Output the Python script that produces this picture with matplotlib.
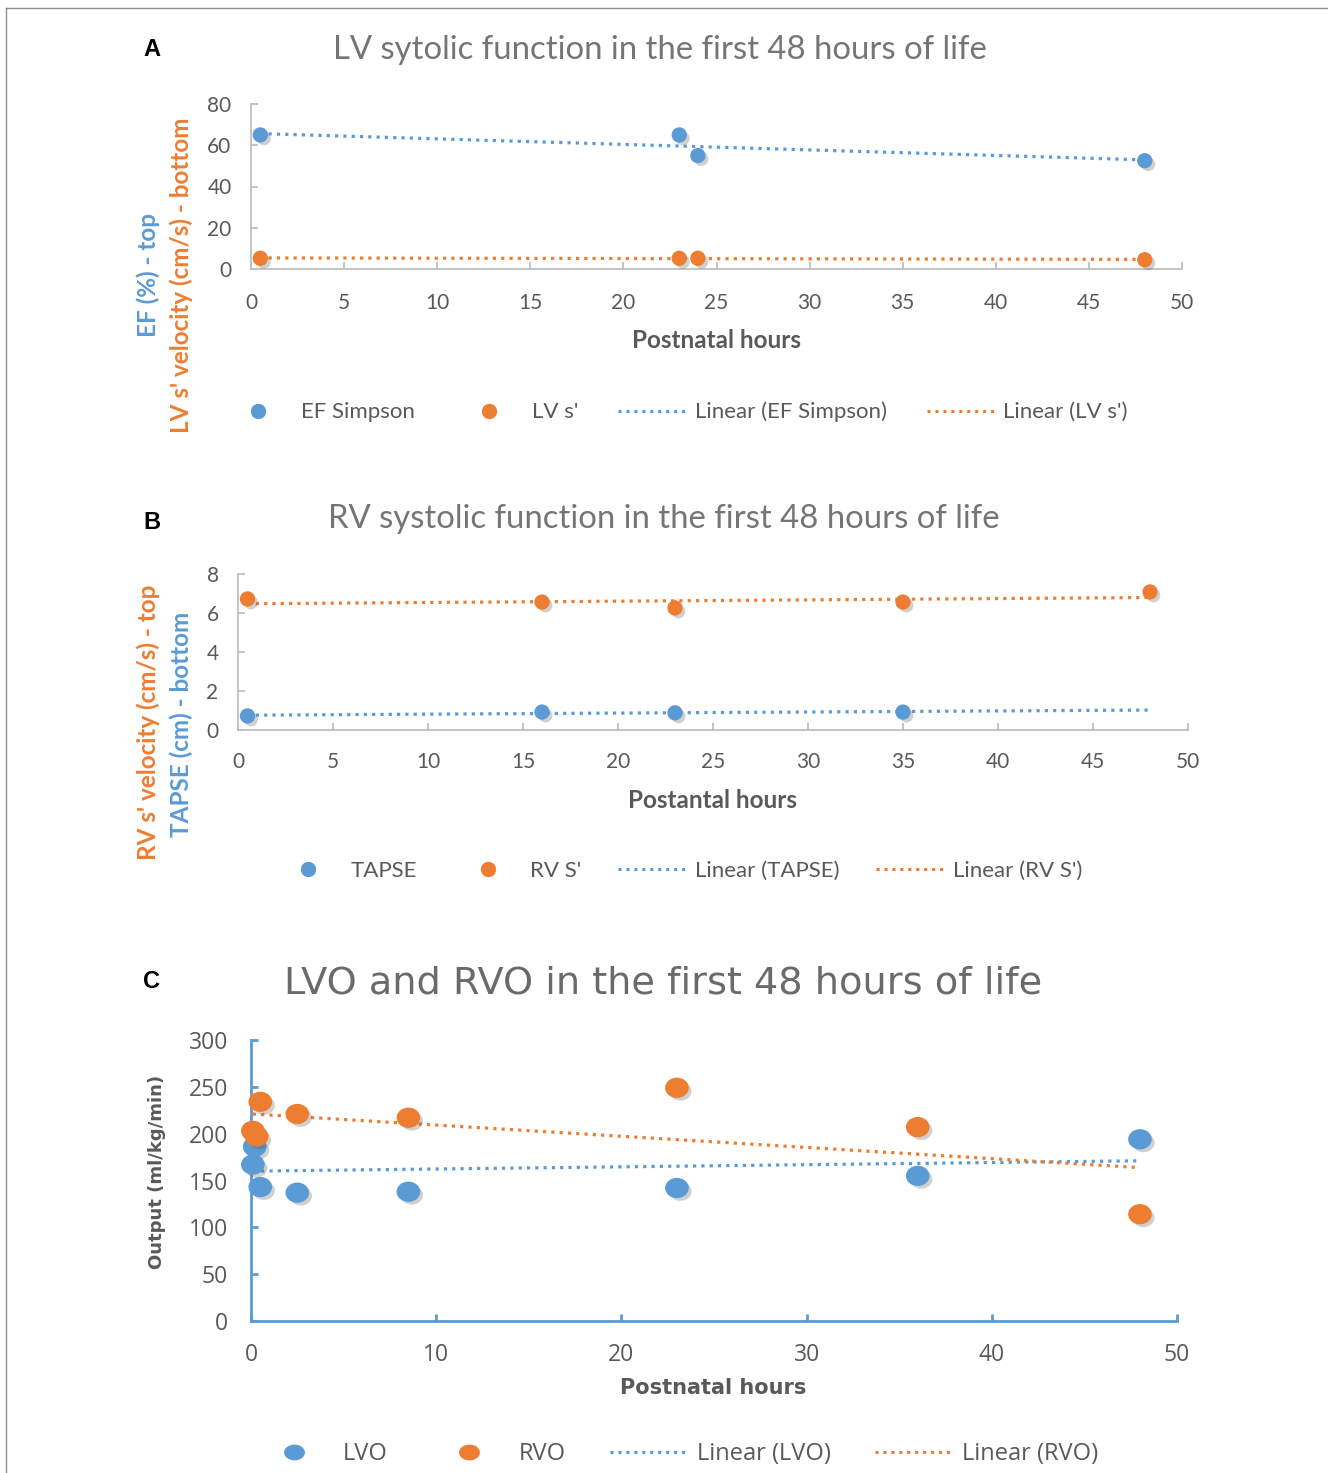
import numpy as np
import matplotlib
matplotlib.use('Agg')
import matplotlib.pyplot as plt
import matplotlib.patheffects as pe
from matplotlib.path import Path
from matplotlib.lines import Line2D

# ---------------- data ----------------
# Panel A
a_hours = [0.5, 23, 24, 48]
a_ef = [65, 65, 55, 52.5]
a_lvs = [5.2, 5.2, 5.2, 4.5]
# Panel B
b_hours_tapse = [0.5, 16, 23, 35]
b_tapse = [0.72, 0.92, 0.88, 0.92]
b_hours_rv = [0.5, 16, 23, 35, 48]
b_rvs = [6.72, 6.56, 6.26, 6.56, 7.08]
# Panel C
c_hours_lvo = [0.2, 0.1, 0.5, 2.5, 8.5, 23, 36, 48]
c_lvo = [186, 167, 143, 137, 138, 142, 155, 194]
c_hours_rvo = [0.5, 0.1, 0.3, 2.5, 8.5, 23, 36, 48]
c_rvo = [234, 203, 197, 221, 217, 249, 207, 114]
c_trend_x = [0.1, 47.8]
c_lvo_trend = [160, 171]
c_rvo_trend = [221, 164]

trend_span = [0.5, 48]

BLUE = '#5B9BD5'
ORANGE = '#ED7D31'
GRAY = '#595959'
TITLE_GRAY = '#757575'
AX_GRAY = '#BFBFBF'

W, H = 1328, 1473
fig = plt.figure(figsize=(W / 100, H / 100), dpi=100)

def rect(x0, x1, ytop, ybot):
    return [x0 / W, 1 - ybot / H, (x1 - x0) / W, (ybot - ytop) / H]

def fx(x):
    return x / W

def fy(y):
    return 1 - y / H

shadow = [pe.SimplePatchShadow(offset=(2.5, -2.5), shadow_rgbFace='0.35', alpha=0.28), pe.Normal()]
dots = (0, (1, 1.6))

# border
fig.add_artist(Line2D([fx(6), 1.0], [fy(8), fy(8)], transform=fig.transFigure, color='0.55', lw=1))
fig.add_artist(Line2D([fx(6), fx(6)], [fy(8), 0.0], transform=fig.transFigure, color='0.55', lw=1))

LATO = ['Lato', 'DejaVu Sans']
WIDE = ['DejaVu Sans']
OPEN = ['Open Sans', 'DejaVu Sans']

def style_axes(ax, color, lw, font, fs, xpad, ypad):
    for s in ['top', 'right']:
        ax.spines[s].set_visible(False)
    for s in ['left', 'bottom']:
        ax.spines[s].set_color(color)
        ax.spines[s].set_linewidth(lw)
    ax.tick_params(axis='both', direction='in', color=color, length=5, width=lw,
                   labelcolor=GRAY, labelsize=fs)
    ax.tick_params(axis='x', pad=xpad)
    ax.tick_params(axis='y', pad=ypad)
    for lab in ax.get_xticklabels() + ax.get_yticklabels():
        lab.set_fontfamily(font)

def fit_line(x, y, span):
    k, b = np.polyfit(x, y, 1)
    xs = np.array(span)
    return xs, k * xs + b

def make_legend(labels, center, font, fs, marker='o', ms=10, hlen=3.05, hpad=0.4, colspace=1.8):
    handles = [
        Line2D([], [], ls='none', marker=marker, color=BLUE, ms=ms),
        Line2D([], [], ls='none', marker=marker, color=ORANGE, ms=ms),
        Line2D([], [], color=BLUE, lw=2.2, ls=dots),
        Line2D([], [], color=ORANGE, lw=2.2, ls=dots),
    ]
    leg = fig.legend(handles, labels, loc='center', bbox_to_anchor=(fx(center[0]), fy(center[1])),
                     bbox_transform=fig.transFigure, ncol=4, frameon=False, handlelength=hlen,
                     handletextpad=hpad, columnspacing=colspace,
                     prop={'family': font, 'size': fs})
    for t in leg.get_texts():
        t.set_color(GRAY)
    return leg

# ---------------- Panel A ----------------
axA = fig.add_axes(rect(251, 1182, 104, 269))
axA.set_xlim(0, 50)
axA.set_ylim(0, 80)
axA.set_xticks(np.arange(0, 51, 5))
axA.set_yticks(np.arange(0, 81, 20))
xs, ys = fit_line(a_hours, a_ef, trend_span)
axA.plot(xs, ys, color=BLUE, lw=2.3, ls=dots, zorder=2)
xs, ys = fit_line(a_hours, a_lvs, trend_span)
axA.plot(xs, ys, color=ORANGE, lw=2.3, ls=dots, zorder=2)
axA.plot(a_hours, a_ef, 'o', color=BLUE, ms=10, zorder=3, clip_on=False, path_effects=shadow)
axA.plot(a_hours, a_lvs, 'o', color=ORANGE, ms=10, zorder=3, clip_on=False, path_effects=shadow)
style_axes(axA, AX_GRAY, 1.3, LATO, 15, 17, 14)

fig.text(fx(152), fy(50), 'A', fontsize=17, fontweight='bold', family=['Liberation Sans'],
         ha='center', va='center')
fig.text(fx(660), fy(50), 'LV sytolic function in the first 48 hours of life', fontsize=23.7,
         color=TITLE_GRAY, family=LATO, ha='center', va='center')
fig.text(fx(148), fy(275), 'EF (%) - top', rotation=90, fontsize=17.5, fontweight='bold',
         color=BLUE, family=LATO, ha='center', va='center')
fig.text(fx(181), fy(275), "LV s' velocity (cm/s) - bottom", rotation=90, fontsize=17.5,
         fontweight='bold', color=ORANGE, family=LATO, ha='center', va='center')
fig.text(fx(716), fy(341), 'Postnatal hours', fontsize=17.5, fontweight='bold', color=GRAY,
         family=LATO, ha='center', va='center')

make_legend(['EF Simpson', "LV s'", 'Linear (EF Simpson)', "Linear (LV s')"], (676, 412), LATO, 16)

# ---------------- Panel B ----------------
axB = fig.add_axes(rect(238, 1188, 574, 730))
axB.set_xlim(0, 50)
axB.set_ylim(0, 8)
axB.set_xticks(np.arange(0, 51, 5))
axB.set_yticks(np.arange(0, 9, 2))
xs, ys = fit_line(b_hours_tapse, b_tapse, trend_span)
axB.plot(xs, ys, color=BLUE, lw=2.3, ls=dots, zorder=2)
xs, ys = fit_line(b_hours_rv, b_rvs, trend_span)
axB.plot(xs, ys, color=ORANGE, lw=2.3, ls=dots, zorder=2)
axB.plot(b_hours_tapse, b_tapse, 'o', color=BLUE, ms=10, zorder=3, clip_on=False, path_effects=shadow)
axB.plot(b_hours_rv, b_rvs, 'o', color=ORANGE, ms=10, zorder=3, clip_on=False, path_effects=shadow)
style_axes(axB, AX_GRAY, 1.3, LATO, 15, 15.5, 14)

fig.text(fx(152), fy(522), 'B', fontsize=17, fontweight='bold', family=['Liberation Sans'],
         ha='center', va='center')
fig.text(fx(664), fy(519), 'RV systolic function in the first 48 hours of life', fontsize=23.7,
         color=TITLE_GRAY, family=LATO, ha='center', va='center')
fig.text(fx(148), fy(722), "RV s' velocity (cm/s) - top", rotation=90, fontsize=17.5,
         fontweight='bold', color=ORANGE, family=LATO, ha='center', va='center')
fig.text(fx(181), fy(724), 'TAPSE (cm) - bottom', rotation=90, fontsize=17.5, fontweight='bold',
         color=BLUE, family=LATO, ha='center', va='center')
fig.text(fx(713), fy(800), 'Postantal hours', fontsize=17.5, fontweight='bold', color=GRAY,
         family=LATO, ha='center', va='center')

make_legend(['TAPSE', "RV S'", 'Linear (TAPSE)', "Linear (RV S')"], (678, 871), LATO, 16,
            colspace=1.65)

# ---------------- Panel C ----------------
circ = Path.unit_circle()
ellipse = Path(circ.vertices * np.array([1.18, 1.0]), circ.codes)
flat_ellipse = Path(circ.vertices * np.array([1.35, 1.0]), circ.codes)

axC = fig.add_axes(rect(251, 1177, 1040, 1321))
axC.set_xlim(0, 50)
axC.set_ylim(0, 300)
axC.set_xticks(np.arange(0, 51, 10))
axC.set_yticks(np.arange(0, 301, 50))
axC.plot(c_trend_x, c_lvo_trend, color=BLUE, lw=2.3, ls=dots, zorder=2)
axC.plot(c_trend_x, c_rvo_trend, color=ORANGE, lw=2.3, ls=dots, zorder=2)
axC.plot(c_hours_lvo, c_lvo, ls='none', marker=ellipse, color=BLUE, ms=16, zorder=3,
         clip_on=False, path_effects=shadow)
axC.plot(c_hours_rvo, c_rvo, ls='none', marker=ellipse, color=ORANGE, ms=16, zorder=3,
         clip_on=False, path_effects=shadow)
style_axes(axC, BLUE, 2.0, OPEN, 16.5, 15.5, 16.5)

fig.text(fx(152), fy(981), 'C', fontsize=17, fontweight='bold', family=['Liberation Sans'],
         ha='center', va='center')
fig.text(fx(663), fy(984), 'LVO and RVO in the first 48 hours of life', fontsize=27.5,
         color='#6A6A6A', family=WIDE, ha='center', va='center')
fig.text(fx(157), fy(1172), 'Output (ml/kg/min)', rotation=90, fontsize=13, fontweight='bold',
         color=GRAY, family=WIDE, ha='center', va='center')
fig.text(fx(713), fy(1388), 'Postnatal hours', fontsize=15, fontweight='bold', color=GRAY,
         family=WIDE, ha='center', va='center')

make_legend(['LVO', 'RVO', 'Linear (LVO)', 'Linear (RVO)'], (677, 1454), OPEN, 17,
            marker=flat_ellipse, ms=14, hlen=3.2, hpad=0.5, colspace=1.85)

fig.savefig('out.png', dpi=100)
